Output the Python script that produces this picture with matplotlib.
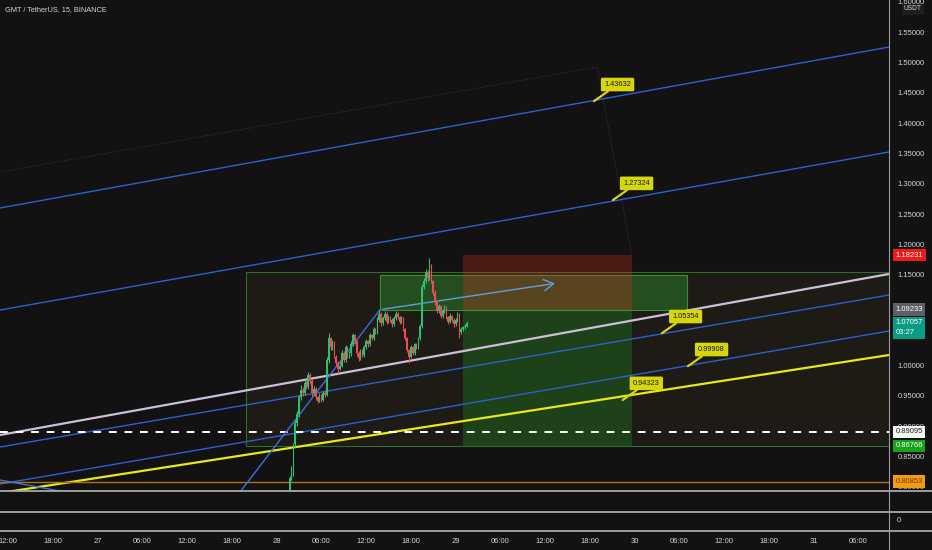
import matplotlib
matplotlib.use("Agg")
import matplotlib.pyplot as plt
import numpy as np
from matplotlib.patches import Rectangle
from matplotlib.transforms import blended_transform_factory
from matplotlib.lines import Line2D

plt.rcParams['font.family'] = ['Liberation Sans', 'DejaVu Sans']

# ---------------- data ----------------
title = "GMT / TetherUS, 15, BINANCE"
candle_start = 49.75   # hours since 26th 00:00
candle_step = 0.25     # 15 minutes
opens = [0.795, 0.815, 0.822, 0.870, 0.905, 0.920, 0.948, 0.960, 0.955, 0.972,
         0.965, 0.985, 0.975, 0.955, 0.962, 0.948, 0.942, 0.950, 0.944, 0.955,
         0.952, 1.010, 1.045, 1.030, 1.038, 1.015, 1.005, 0.995, 1.000, 1.020,
         1.010, 1.030, 1.015, 1.020, 1.035, 1.050, 1.040, 1.020, 1.012, 1.025,
         1.018, 1.030, 1.040, 1.035, 1.050, 1.045, 1.060, 1.055, 1.075, 1.085,
         1.070, 1.078, 1.085, 1.072, 1.080, 1.075, 1.068, 1.078, 1.085, 1.080,
         1.072, 1.078, 1.060, 1.045, 1.025, 1.015, 1.030, 1.020, 1.035, 1.030,
         1.045, 1.065, 1.130, 1.140, 1.155, 1.145, 1.165, 1.140, 1.120, 1.105,
         1.090, 1.098, 1.082, 1.090, 1.095, 1.080, 1.072, 1.082, 1.075, 1.068,
         1.075, 1.085, 1.055, 1.060, 1.063, 1.066]
closes = [0.815, 0.822, 0.870, 0.905, 0.920, 0.948, 0.960, 0.955, 0.972, 0.965,
          0.985, 0.975, 0.955, 0.962, 0.948, 0.942, 0.950, 0.944, 0.955, 0.952,
          1.010, 1.045, 1.030, 1.038, 1.015, 1.005, 0.995, 1.000, 1.020, 1.010,
          1.030, 1.015, 1.020, 1.035, 1.050, 1.040, 1.020, 1.012, 1.025, 1.018,
          1.030, 1.040, 1.035, 1.050, 1.045, 1.060, 1.055, 1.075, 1.085, 1.070,
          1.078, 1.085, 1.072, 1.080, 1.075, 1.068, 1.078, 1.085, 1.080, 1.072,
          1.078, 1.060, 1.045, 1.025, 1.015, 1.030, 1.020, 1.035, 1.030, 1.045,
          1.065, 1.130, 1.140, 1.155, 1.145, 1.165, 1.140, 1.120, 1.105, 1.090,
          1.098, 1.082, 1.090, 1.095, 1.080, 1.072, 1.082, 1.075, 1.068, 1.075,
          1.085, 1.055, 1.060, 1.063, 1.066, 1.0706]
highs = [0.818, 0.835, 0.872, 0.910, 0.925, 0.952, 0.968, 0.965, 0.978, 0.975,
         0.990, 0.988, 0.978, 0.966, 0.965, 0.950, 0.955, 0.953, 0.958, 0.960,
         1.015, 1.054, 1.048, 1.042, 1.040, 1.018, 1.008, 1.006, 1.025, 1.024,
         1.034, 1.032, 1.024, 1.040, 1.054, 1.052, 1.042, 1.024, 1.028, 1.028,
         1.034, 1.044, 1.042, 1.054, 1.052, 1.064, 1.062, 1.080, 1.092, 1.088,
         1.082, 1.090, 1.088, 1.084, 1.082, 1.078, 1.082, 1.090, 1.088, 1.082,
         1.082, 1.080, 1.062, 1.048, 1.028, 1.034, 1.032, 1.038, 1.037, 1.048,
         1.068, 1.134, 1.145, 1.160, 1.158, 1.178, 1.168, 1.142, 1.124, 1.108,
         1.102, 1.100, 1.094, 1.100, 1.098, 1.082, 1.086, 1.084, 1.078, 1.078,
         1.088, 1.087, 1.063, 1.066, 1.069, 1.074]
lows = [0.791, 0.812, 0.818, 0.865, 0.900, 0.915, 0.944, 0.950, 0.952, 0.962,
        0.962, 0.970, 0.950, 0.952, 0.944, 0.938, 0.940, 0.940, 0.942, 0.948,
        0.950, 1.005, 1.026, 1.026, 1.012, 1.000, 0.988, 0.992, 0.997, 1.006,
        1.006, 1.012, 1.012, 1.016, 1.032, 1.036, 1.016, 1.008, 1.009, 1.015,
        1.015, 1.027, 1.031, 1.032, 1.042, 1.043, 1.052, 1.052, 1.072, 1.066,
        1.067, 1.075, 1.069, 1.070, 1.072, 1.064, 1.066, 1.076, 1.077, 1.069,
        1.070, 1.057, 1.042, 1.022, 1.005, 1.012, 1.017, 1.018, 1.027, 1.028,
        1.042, 1.062, 1.126, 1.137, 1.140, 1.142, 1.136, 1.116, 1.100, 1.086,
        1.087, 1.078, 1.079, 1.086, 1.077, 1.068, 1.070, 1.072, 1.064, 1.065,
        1.072, 1.045, 1.052, 1.057, 1.060, 1.063]

# time axis ticks (hours since 26th 00:00)
time_ticks = [12, 18, 24, 30, 36, 42, 48, 54, 60, 66, 72, 78, 84, 90, 96, 102, 108, 114, 120, 126]
time_labels = ["12:00", "18:00", "27", "06:00", "12:00", "18:00", "28", "06:00", "12:00", "18:00",
               "29", "06:00", "12:00", "18:00", "30", "06:00", "12:00", "18:00", "31", "06:00"]
x_range = [10.93, 130.1]
y_range = [0.7931, 1.6033]
price_ticks = [0.80, 0.85, 0.90, 0.95, 1.00, 1.05, 1.10, 1.15, 1.20, 1.25, 1.30, 1.35, 1.40, 1.45, 1.50, 1.55, 1.60]

# parallel channel lines: (start price, end price) at x_range ends
channel_top = [1.2601, 1.5257]
channel_second = [1.0917, 1.3525]
channel_lavender = [0.8855, 1.1512]
channel_blue_a = [0.8657, 1.1165]
channel_blue_b = [0.8046, 1.0571]
channel_yellow = [0.7898, 1.0175]

# callout labels on channel lines
callout_times = [90.55, 93.1, 99.67, 103.15, 94.4]
callout_values = [1.43632, 1.27324, 1.05354, 0.99908, 0.94323]

# rectangles: (t0, t1, p0, p1)
range_box = [43.9, 135.0, 0.86766, 1.1545]
zone_box = [61.87, 103.0, 1.09233, 1.1495]
stop_box = [73.0, 95.65, 1.09233, 1.18231]
target_box = [73.0, 95.65, 0.86766, 1.09233]

# trend drawings
steep_line_t = [43.1, 61.87]
steep_line_p = [0.7914, 1.09233]
arrow_t = [61.87, 85.7]
arrow_p = [1.09233, 1.1363]
down_line_t = [10.93, 18.97]
down_line_p = [0.8112, 0.7930]
faint_t = [10.93, 91.0, 95.6]
faint_p = [1.3195, 1.4927, 1.1842]

dashed_level = 0.89095
orange_level = 0.80853
last_price = 1.07057
last_countdown = "03:27"
stop_level = 1.18231
entry_level = 1.09233
target_level = 0.86766

# ---------------- figure ----------------
BG = '#121212'
TXT = '#d1d4dc'
W, H = 932, 550
fig = plt.figure(figsize=(W / 100, H / 100), dpi=100, facecolor=BG)
ax = fig.add_axes([0, 1 - 491 / H, 889 / W, 491 / H])
ax.set_facecolor(BG)
ax.set_xlim(*x_range)
ax.set_ylim(*y_range)
for s in ax.spines.values():
    s.set_visible(False)

# rectangles
ax.add_patch(Rectangle((range_box[0], range_box[2]), range_box[1] - range_box[0],
                       range_box[3] - range_box[2], fc='#1e1a15', ec='#2f6a2f', lw=0.8, zorder=1))
ax.add_patch(Rectangle((target_box[0], target_box[2]), target_box[1] - target_box[0],
                       target_box[3] - target_box[2], fc='#1d6b1d', alpha=0.5, ec='none', zorder=2))
ax.add_patch(Rectangle((zone_box[0], zone_box[2]), zone_box[1] - zone_box[0],
                       zone_box[3] - zone_box[2], fc='#2a7a2a', alpha=0.55, ec='none', zorder=2))
ax.add_patch(Rectangle((zone_box[0], zone_box[2]), zone_box[1] - zone_box[0],
                       zone_box[3] - zone_box[2], fc='none', ec='#3c8c3c', lw=0.8, zorder=2.1))
ax.add_patch(Rectangle((stop_box[0], stop_box[2]), stop_box[1] - stop_box[0],
                       stop_box[3] - stop_box[2], fc='#e03020', alpha=0.28, ec='none', zorder=2.2))

# faint lines
ax.plot(faint_t, faint_p, color='#2a1f1f', lw=0.7, zorder=1.5)

# channels
for vals, col, lw in [(channel_top, '#2f5fd0', 1.0), (channel_second, '#2f5fd0', 1.0),
                      (channel_blue_a, '#2f5fd0', 1.0), (channel_blue_b, '#2f5fd0', 1.0),
                      (channel_lavender, '#cdbfd9', 1.6), (channel_yellow, '#e8e81a', 1.6)]:
    ax.plot(x_range, vals, color=col, lw=lw, zorder=3, solid_capstyle='butt')

# horizontal levels
ax.axhline(dashed_level, color='white', lw=1.4, ls=(0, (4, 4)), zorder=3)
ax.axhline(orange_level, color='#b8720c', lw=1.0, zorder=3)

# steep trend line + arrow
ax.plot(steep_line_t, steep_line_p, color='#3a6fe0', lw=1.0, zorder=3)
ax.plot(down_line_t, down_line_p, color='#3a6fe0', lw=1.0, zorder=3)
ax.annotate('', xy=(arrow_t[1], arrow_p[1]), xytext=(arrow_t[0], arrow_p[0]),
            arrowprops=dict(arrowstyle='->,head_length=0.7,head_width=0.4', color='#5f9ee0', lw=1.0),
            zorder=3)

# candles
t = candle_start + candle_step * np.arange(len(closes))
o = np.array(opens); c = np.array(closes); hi = np.array(highs); lo = np.array(lows)
up = c >= o
colors = np.where(up, '#2fbf71', '#ef4a55')
ax.vlines(t, lo, hi, colors=colors, lw=0.8, zorder=4)
ax.bar(t, np.maximum(np.abs(c - o), 0.0015), bottom=np.minimum(o, c), width=candle_step * 0.8,
       color=colors, edgecolor='none', zorder=4.1)

# callouts
YEL = '#d6d60e'
for tt, v in zip(callout_times, callout_values):
    ax.annotate(f'{v:.5f}', xy=(tt, v), xytext=(17, 12), textcoords='offset points',
                ha='center', va='center', fontsize=5.3, color='#1a1a1a',
                bbox=dict(boxstyle='round,pad=0.45,rounding_size=0.2', fc=YEL, ec='none'),
                arrowprops=dict(arrowstyle='-', color=YEL, lw=1.6, shrinkA=0, shrinkB=0),
                zorder=6)

# right price axis
ax.yaxis.tick_right()
ax.set_yticks(price_ticks)
ax.set_yticklabels([f'{v:.5f}' for v in price_ticks])
ax.tick_params(axis='y', length=0, pad=6, labelsize=5.5, colors=TXT)
ax.set_xticks([])

blend = blended_transform_factory(ax.transAxes, ax.transData)
def price_tag(val, fc, tc, extra=None):
    txt = f'{val:.5f}' if extra is None else f'{val:.5f}\n{extra}'
    ax.annotate(txt, xy=(1.0, val), xycoords=blend, xytext=(4.5, 0 if extra is None else 2.5),
                textcoords='offset points', ha='left', va='center' if extra is None else 'top',
                fontsize=5.5, color=tc, linespacing=1.5, annotation_clip=False,
                bbox=dict(boxstyle='square,pad=0.35', fc=fc, ec='none'), zorder=10)

price_tag(stop_level, '#f01818', 'white')
price_tag(entry_level, '#5d5f66', 'white')
price_tag(last_price, '#0b9a82', 'white', last_countdown)
price_tag(dashed_level, '#f4f4f4', '#222222')
price_tag(target_level, '#17a317', 'white')
price_tag(orange_level, '#f39c12', '#7a3b00')

# title and unit
fig.text(5 / W, 1 - 10 / H, title, fontsize=5.3, color=TXT, ha='left', va='center')
fig.text(913 / W, 1 - 9 / H, 'USDT', fontsize=4.8, color=TXT, ha='center', va='center',
         bbox=dict(boxstyle='square,pad=0.3', fc='#1e1e1e', ec='none'))

# bottom panes / time axis
ax2 = fig.add_axes([0, 1 - 531 / H, 889 / W, 40 / H], sharex=ax)
ax2.set_facecolor(BG)
for s in ax2.spines.values():
    s.set_visible(False)
ax2.set_yticks([])
ax2.set_xticks(time_ticks)
ax2.set_xticklabels(time_labels)
ax2.tick_params(axis='x', length=0, pad=5, labelsize=5.5, colors=TXT)
ax2.set_xlim(*x_range)
fig.text(897 / W, 1 - 521 / H, '0', fontsize=5.5, color=TXT, ha='left', va='center')

for ypx in [491, 512, 531]:
    fig.add_artist(Line2D([0, 1], [1 - ypx / H, 1 - ypx / H], transform=fig.transFigure,
                          color='#a8a8a8', lw=1.3))
fig.add_artist(Line2D([889 / W, 889 / W], [0, 1], transform=fig.transFigure, color='#9a9a9a', lw=0.8))

fig.savefig('out.png', dpi=100, facecolor=BG)
